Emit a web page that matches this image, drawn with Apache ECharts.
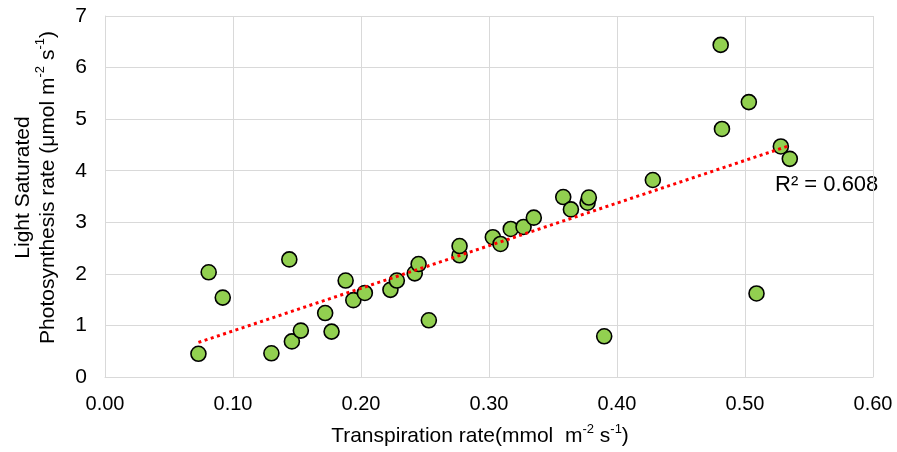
<!DOCTYPE html>
<html>
<head>
<meta charset="utf-8">
<script src="https://cdn.jsdelivr.net/npm/echarts@6/dist/echarts.min.js"></script>
<style>
  html, body { margin: 0; padding: 0; background: #fff; }
  #myChart { width: 897px; height: 452px; }
</style>
</head>
<body>
<div id="myChart"></div>
<script>
  // transpiration rate (mmol m-2 s-1) vs light saturated photosynthesis rate
  var transpiration = [
    0.073, 0.081, 0.092, 0.144, 0.130, 0.146, 0.153, 0.172, 0.177, 0.188,
    0.194, 0.203, 0.223, 0.228, 0.242, 0.245, 0.253, 0.277, 0.277, 0.303,
    0.309, 0.317, 0.327, 0.335, 0.358, 0.364, 0.377, 0.378, 0.390, 0.428,
    0.481, 0.482, 0.503, 0.509, 0.528, 0.535
  ];
  var photosynthesis = [
    0.45, 2.03, 1.54, 2.28, 0.46, 0.69, 0.90, 1.24, 0.88, 1.87,
    1.49, 1.63, 1.69, 1.87, 2.01, 2.19, 1.10, 2.36, 2.54, 2.71,
    2.58, 2.87, 2.91, 3.09, 3.49, 3.25, 3.38, 3.48, 0.79, 3.82,
    6.44, 4.81, 5.33, 1.62, 4.47, 4.23
  ];
  // linear trendline ends
  var trendX = [0.073, 0.534];
  var trendY = [0.67, 4.48];
  var r2Text = 'R² = 0.608';

  var points = transpiration.map(function (x, i) { return [x, photosynthesis[i]]; });
  var trend = trendX.map(function (x, i) { return [x, trendY[i]]; });

  var font = '"Liberation Sans", Arial, sans-serif';
  var myChart = echarts.init(document.getElementById('myChart'));
  myChart.setOption({
    animation: false,
    textStyle: { fontFamily: font },
    grid: { left: 105, right: 24, top: 16, bottom: 73 },
    xAxis: {
      type: 'value',
      min: 0,
      max: 0.6,
      interval: 0.1,
      name: '{n|Transpiration rate(mmol  m}{s|-2}{n| s}{s|-1}{n|)}',
      nameLocation: 'middle',
      nameGap: 46,
      nameTextStyle: {
        padding: [0, 18, 0, 0],
        rich: {
          n: { fontSize: 21, color: '#000', fontFamily: font, verticalAlign: 'bottom', lineHeight: 24 },
          s: { fontSize: 13, color: '#000', fontFamily: font, verticalAlign: 'top', lineHeight: 24 }
        }
      },
      axisLine: { lineStyle: { color: '#d9d9d9', width: 1 } },
      axisTick: { show: false },
      axisLabel: {
        color: '#000', fontSize: 20, margin: 17,
        formatter: function (v) { return v.toFixed(2); }
      },
      splitLine: { show: true, lineStyle: { color: '#d9d9d9', width: 1 } }
    },
    yAxis: {
      type: 'value',
      min: 0,
      max: 7,
      interval: 1,
      name: '{n|Light Saturated}\n{n|Photosynthesis rate (μmol m}{s|-2}{n| s}{s|-1}{n|)}',
      nameLocation: 'middle',
      nameRotate: 90,
      nameGap: 46,
      nameTextStyle: {
        padding: [0, 0, 0, 18],
        rich: {
          n: { fontSize: 21, color: '#000', fontFamily: font, verticalAlign: 'bottom', lineHeight: 25 },
          s: { fontSize: 13, color: '#000', fontFamily: font, verticalAlign: 'top', lineHeight: 25 }
        }
      },
      axisLine: { show: true, lineStyle: { color: '#d9d9d9', width: 1 } },
      axisTick: { show: false },
      axisLabel: { color: '#000', fontSize: 21, margin: 18 },
      splitLine: { show: true, lineStyle: { color: '#d9d9d9', width: 1 } }
    },
    series: [
      {
        name: 'data',
        type: 'scatter',
        data: points,
        symbol: 'circle',
        symbolSize: 15,
        itemStyle: { color: '#92d050', borderColor: '#000', borderWidth: 1.6, opacity: 1 },
        z: 2
      },
      {
        name: 'trend',
        type: 'line',
        data: trend,
        symbol: 'none',
        lineStyle: { color: '#ff0000', width: 3, type: [3, 3.5] },
        z: 3,
        silent: true
      }
    ],
    graphic: [
      {
        type: 'text',
        left: 775,
        top: 174,
        style: { text: r2Text, fill: '#000', font: '22px ' + font }
      }
    ]
  });
</script>
</body>
</html>
